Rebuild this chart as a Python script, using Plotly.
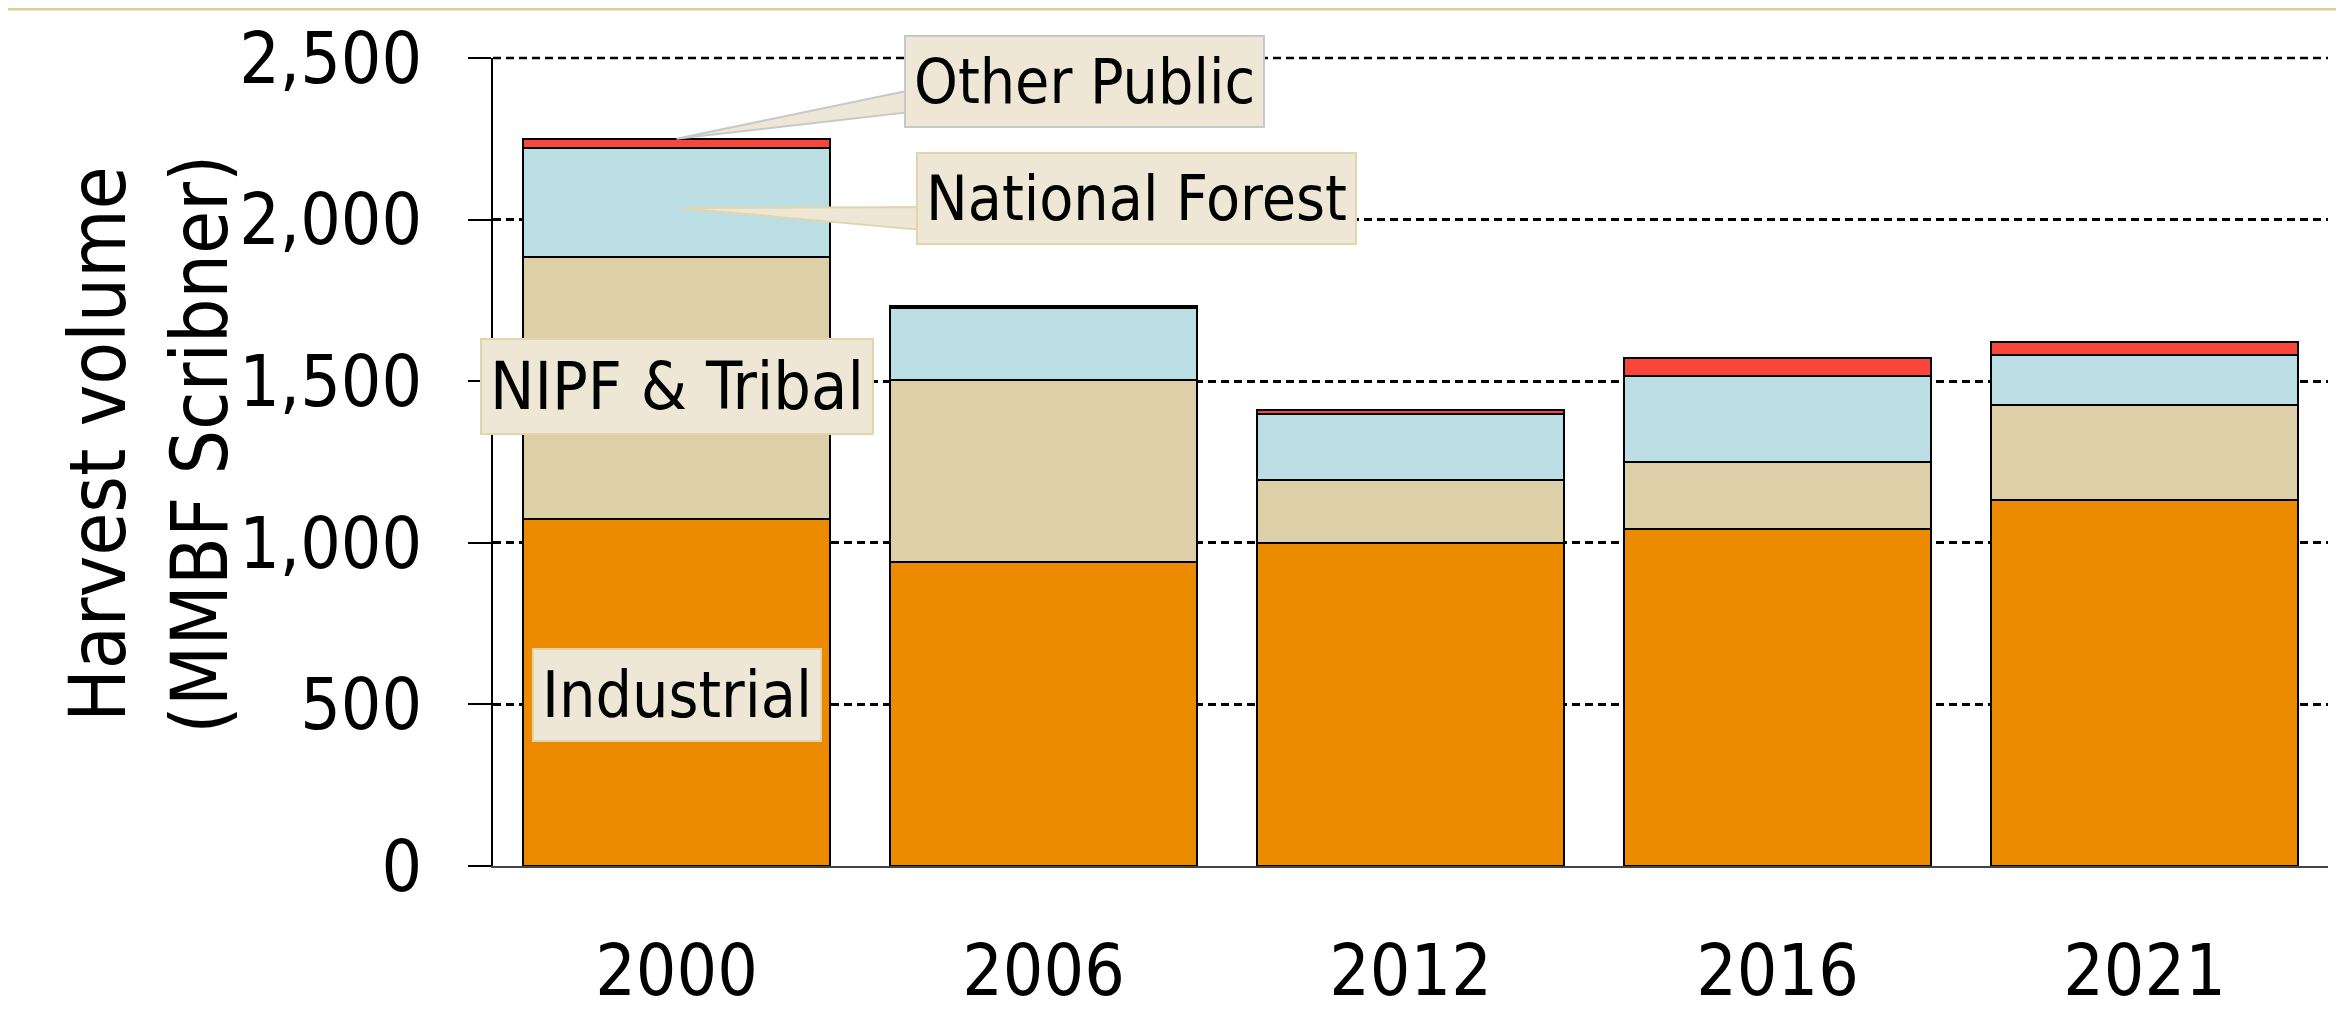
import plotly.graph_objects as go

# ---- data ----
years = ["2000", "2006", "2012", "2016", "2021"]
industrial = [1073, 942, 1000, 1044, 1133]
nipf_tribal = [812, 562, 195, 206, 294]
national_forest = [337, 223, 203, 265, 154]
other_public = [28, 5, 14, 57, 41]
y_ticks = [0, 500, 1000, 1500, 2000, 2500]

series = [
    ("Industrial", industrial, "#EC8B00"),
    ("NIPF & Tribal", nipf_tribal, "#DDCFA8"),
    ("National Forest", national_forest, "#BBDEE5"),
    ("Other Public", other_public, "#FA453B"),
]

FONT = "DejaVu Sans Condensed"
BOXBG = "#EFE7D6"

fig = go.Figure()
for name, vals, col in series:
    fig.add_trace(go.Bar(
        x=years, y=vals, name=name,
        marker=dict(color=col, line=dict(color="black", width=2)),
    ))

# page body has an 8px margin, so the figure is offset by 8px
fig.update_layout(
    width=2336, height=1007, autosize=False,
    margin=dict(l=485, r=16, t=50, b=149),
    barmode="stack", bargap=0.166,
    plot_bgcolor="white", paper_bgcolor="white",
    showlegend=False,
    font=dict(family=FONT, color="black"),
)

fig.update_yaxes(
    range=[0, 2500], tickvals=y_ticks, tickformat=",",
    showgrid=True, gridcolor="black", gridwidth=2.5, griddash="8px,5px",
    zeroline=False, automargin=False,
    showline=True, linecolor="black", linewidth=1.5,
    ticks="outside", ticklen=23, tickcolor="black", tickwidth=1.5,
    tickfont=dict(size=71, family=FONT, color="black"),
    ticklabelstandoff=32,
)
fig.update_xaxes(
    type="category", range=[-0.5, 4.5], automargin=False,
    showline=True, linecolor="#444444", linewidth=2,
    ticks="", showgrid=False,
    tickfont=dict(size=71, family=FONT, color="black"),
    ticklabelstandoff=42,
)

# top gridline at the range edge (plotly skips it)
fig.add_shape(type="line", xref="paper", yref="paper", x0=0, x1=1,
              y0=1, y1=1, layer="below",
              line=dict(color="black", width=2.5, dash="8px,5px"))

# y-axis title
fig.add_annotation(
    text="Harvest volume<br>(MMBF Scribner)", textangle=-90,
    xref="paper", yref="paper", x=-0.1346, y=0.522,
    xanchor="right", yanchor="middle", showarrow=False, align="center",
    font=dict(size=78, family=FONT, color="black"),
)

# callout wedges
fig.add_shape(type="path", xref="x", yref="y",
              path="M 0,2250 L 0.64,2401 L 0.64,2333 Z",
              fillcolor=BOXBG, line=dict(color="#C8C8C8", width=2))
fig.add_shape(type="path", xref="x", yref="y",
              path="M 0.01,2036 L 0.67,2039 L 0.67,1968 Z",
              fillcolor=BOXBG, line=dict(color="#E2D5AE", width=2))

# decorative top line at the top edge of the figure
fig.add_shape(type="line", xref="paper", yref="paper",
              x0=-0.27, x1=1.01, y0=1.0607, y1=1.0607,
              line=dict(color="#DDCC99", width=3))

def label(text, x, y, xanchor, border, size):
    fig.add_annotation(
        text=text, x=x, y=y, xref="x", yref="y",
        xanchor=xanchor, yanchor="middle", showarrow=False,
        font=dict(size=size, family=FONT, color="black"),
        bgcolor=BOXBG, bordercolor=border, borderwidth=2, borderpad=8,
    )

label("Other Public", 0.62, 2426, "left", "#C8C8C8", 62)
label("National Forest", 0.653, 2064, "left", "#E2D5AE", 62)
label("NIPF & Tribal", 0, 1485, "center", "#E2D5AE", 66)
label("Industrial", 0, 528, "center", "#E2D5AE", 64)

fig.write_html("out.html")
